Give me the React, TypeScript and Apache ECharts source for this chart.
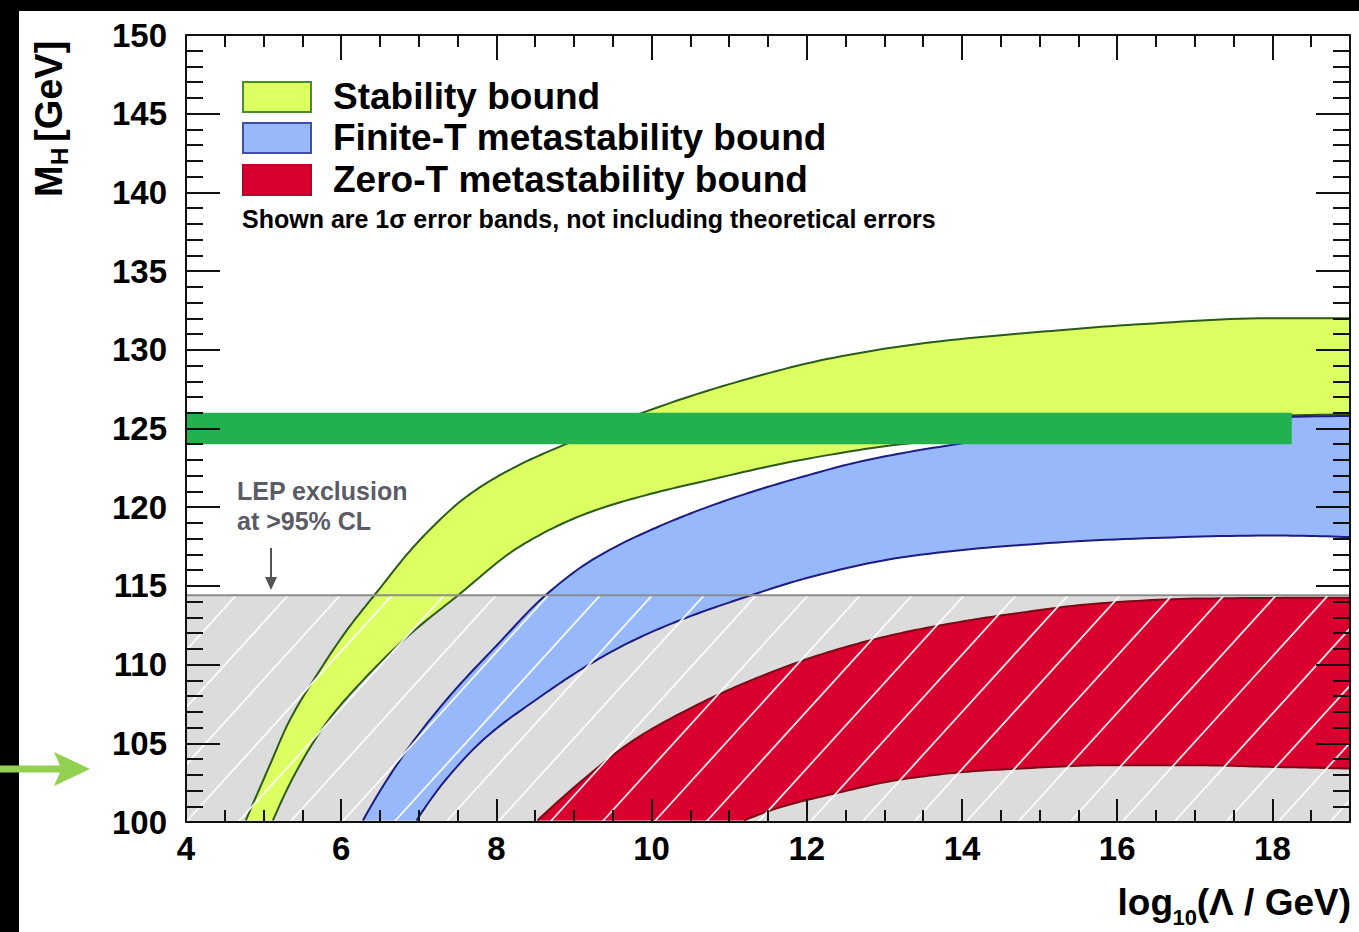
import React, { useEffect, useRef } from "react";
import * as echarts from "echarts";

// ---------- axis ranges ----------
const X_MIN = 4;
const X_MAX = 19;
const Y_MIN = 100;
const Y_MAX = 150;
const X_MAJOR = 2;
const X_MINOR = 0.5;
const Y_MAJOR = 5;

// ---------- Stability bound (yellow band) ----------
const stabilityUpperX = [4.77, 5.07, 5.33, 5.72, 6.06, 6.41, 7.01, 7.65, 8.3, 8.94, 9.94, 11.06, 12.35, 13.64, 15.15, 16.22, 17.95, 19];
const stabilityUpperY = [100.1, 103.5, 106.4, 109.6, 112.1, 114.3, 117.9, 120.8, 122.7, 124.1, 126.1, 127.9, 129.5, 130.5, 131.2, 131.6, 132.0, 132.0];
const stabilityLowerX = [5.12, 5.42, 5.81, 6.28, 6.88, 7.48, 8.3, 9.16, 10.03, 10.63, 11.92, 13.21, 14.5, 16.0, 18.0, 19];
const stabilityLowerY = [100.1, 103.2, 106.3, 109.0, 111.9, 114.3, 117.5, 119.6, 120.9, 121.6, 123.0, 124.0, 124.6, 125.3, 125.8, 125.9];

// ---------- Finite-T metastability bound (blue band) ----------
const finiteUpperX = [6.28, 6.58, 6.97, 7.45, 8.0, 8.62, 9.25, 10.2, 11.06, 11.92, 12.78, 13.86, 15.0, 17.0, 19];
const finiteUpperY = [100.1, 102.6, 105.4, 108.3, 111.2, 114.35, 116.7, 119.0, 120.6, 121.9, 123.0, 123.95, 124.7, 125.5, 125.8];
const finiteLowerX = [6.97, 7.35, 7.87, 8.52, 9.16, 9.75, 10.46, 11.28, 12.0, 13.21, 14.5, 16.22, 17.95, 19];
const finiteLowerY = [100.1, 102.7, 105.4, 107.8, 109.9, 111.5, 113.0, 114.4, 115.5, 116.8, 117.5, 118.0, 118.2, 118.1];

// ---------- Zero-T metastability bound (red band) ----------
const zeroUpperX = [8.53, 9.12, 9.77, 10.41, 11.28, 12.35, 13.21, 14.08, 14.76, 15.79, 17.08, 19];
const zeroUpperY = [100.1, 102.7, 105.2, 107.0, 109.0, 110.9, 112.0, 112.8, 113.3, 113.9, 114.2, 114.25];
const zeroLowerX = [11.19, 11.7, 12.35, 13.21, 14.08, 14.76, 15.79, 17.08, 18.0, 19];
const zeroLowerY = [100.1, 101.0, 101.8, 102.7, 103.2, 103.4, 103.6, 103.6, 103.5, 103.4];

// ---------- LEP exclusion and Higgs mass band ----------
const lepLimit = 114.4;
const higgsBandY = [124, 126];
const higgsBandX = [4, 18.25];

// ---------- texts ----------
const legendLabels = ["Stability bound", "Finite-T metastability bound", "Zero-T metastability bound"];
const noteText = "Shown are 1σ error bands, not including theoretical errors";
const lepText = ["LEP exclusion", "at >95% CL"];

const FONT = "'Liberation Sans', Arial, Helvetica, sans-serif";
const YELLOW = "#dcff62";
const YELLOW_EDGE = "#2c5a1c";
const BLUE = "#97b9fc";
const BLUE_EDGE = "#1c1c82";
const RED = "#d90030";
const RED_EDGE = "#7a0a14";
const GREEN = "#23b14d";

// shape-preserving cubic (PCHIP) through the read points, sampled for drawing
function pchip(xs: number[], ys: number[], perSeg = 14): number[][] {
  const n = xs.length;
  if (n < 3) return xs.map((x, i) => [x, ys[i]]);
  const h: number[] = [];
  const d: number[] = [];
  for (let i = 0; i < n - 1; i++) {
    h.push(xs[i + 1] - xs[i]);
    d.push((ys[i + 1] - ys[i]) / h[i]);
  }
  const m = new Array(n).fill(0);
  for (let i = 1; i < n - 1; i++) {
    if (d[i - 1] * d[i] <= 0) m[i] = 0;
    else {
      const w1 = 2 * h[i] + h[i - 1];
      const w2 = h[i] + 2 * h[i - 1];
      m[i] = (w1 + w2) / (w1 / d[i - 1] + w2 / d[i]);
    }
  }
  const endSlope = (h0: number, h1: number, d0: number, d1: number) => {
    let s = ((2 * h0 + h1) * d0 - h0 * d1) / (h0 + h1);
    if (Math.sign(s) !== Math.sign(d0)) s = 0;
    else if (Math.sign(d0) !== Math.sign(d1) && Math.abs(s) > Math.abs(3 * d0)) s = 3 * d0;
    return s;
  };
  m[0] = endSlope(h[0], h[1], d[0], d[1]);
  m[n - 1] = endSlope(h[n - 2], h[n - 3], d[n - 2], d[n - 3]);
  const out: number[][] = [];
  for (let i = 0; i < n - 1; i++) {
    for (let s = 0; s < perSeg; s++) {
      const t = s / perSeg;
      const t2 = t * t;
      const t3 = t2 * t;
      const h00 = 2 * t3 - 3 * t2 + 1;
      const h10 = t3 - 2 * t2 + t;
      const h01 = -2 * t3 + 3 * t2;
      const h11 = t3 - t2;
      out.push([xs[i] + t * h[i], h00 * ys[i] + h10 * h[i] * m[i] + h01 * ys[i + 1] + h11 * h[i] * m[i + 1]]);
    }
  }
  out.push([xs[n - 1], ys[n - 1]]);
  return out;
}

function bandSeries(name: string, ux: number[], uy: number[], lx: number[], ly: number[], fill: string, edge: string) {
  return {
    type: "custom",
    name,
    z: 3,
    clip: true,
    silent: true,
    data: [[ux[0], uy[0]]],
    renderItem: (_params: any, api: any) => {
      const up = pchip(ux, uy).map((p) => api.coord(p));
      const lo = pchip(lx, ly).map((p) => api.coord(p));
      const poly = up.concat(lo.slice().reverse());
      return {
        type: "group",
        children: [
          { type: "polygon", shape: { points: poly }, style: { fill, stroke: "none" } },
          { type: "polyline", shape: { points: up }, style: { fill: "none", stroke: edge, lineWidth: 2 } },
          { type: "polyline", shape: { points: lo }, style: { fill: "none", stroke: edge, lineWidth: 2 } },
        ],
      };
    },
  };
}

function xAxisDef(position: "top" | "bottom", step: number, len: number, labels: boolean, line: boolean) {
  return {
    type: "value",
    position,
    min: X_MIN,
    max: X_MAX,
    interval: step,
    z: 10,
    axisLine: { show: line, onZero: false, lineStyle: { color: "#111", width: 2 } },
    axisTick: { show: true, inside: true, length: len, lineStyle: { color: "#111", width: 2 } },
    splitLine: { show: false },
    axisLabel: {
      show: labels,
      showMaxLabel: false,
      margin: 10,
      color: "#000",
      fontSize: 33,
      fontWeight: "bold",
      fontFamily: FONT,
    },
  };
}

function yAxisDef(position: "left" | "right", labels: boolean) {
  return {
    type: "value",
    position,
    min: Y_MIN,
    max: Y_MAX,
    interval: Y_MAJOR,
    z: 10,
    axisLine: { show: true, onZero: false, lineStyle: { color: "#111", width: 2 } },
    axisTick: { show: true, inside: true, length: 34, lineStyle: { color: "#111", width: 2 } },
    minorTick: { show: true, splitNumber: 5, length: 17, lineStyle: { color: "#111", width: 2 } },
    splitLine: { show: false },
    minorSplitLine: { show: false },
    axisLabel: {
      show: labels,
      margin: 19,
      color: "#000",
      fontSize: 33,
      fontWeight: "bold",
      fontFamily: FONT,
      padding: [11, 0, 0, 0],
    },
  };
}

export default function App() {
  const ref = useRef<HTMLDivElement>(null);

  useEffect(() => {
    if (!ref.current) return;
    const chart = echarts.init(ref.current, undefined, { renderer: "svg" });

    const legendColors = [
      [YELLOW, "#4f8a2c"],
      [BLUE, "#3d4fa8"],
      [RED, "#b8002a"],
    ];
    const legendTop = [82, 123, 165];
    const txt = (text: string, font: string, fill: string, align: string) => ({
      text,
      font,
      fill,
      align,
      textAlign: align,
      verticalAlign: "middle",
      textVerticalAlign: "middle",
    });

    const graphics: any[] = [
      // black framing strips
      { type: "rect", shape: { x: 0, y: 0, width: 1359, height: 11 }, style: { fill: "#000" }, z: 100 },
      { type: "rect", shape: { x: 0, y: 0, width: 19, height: 932 }, style: { fill: "#000" }, z: 100 },
      // green pointer arrow
      {
        type: "polygon",
        z: 101,
        shape: { points: [[0, 765.5], [60, 765.5], [54, 752], [90, 769], [54, 786], [60, 772.5], [0, 772.5]] },
        style: { fill: "#92d050" },
      },
      // y-axis title
      {
        type: "group",
        x: 49,
        y: 197,
        rotation: Math.PI / 2,
        z: 100,
        children: [
          { type: "text", x: 0, y: 0, style: txt("M", `bold 38px ${FONT}`, "#000", "left") },
          { type: "text", x: 32, y: 10, style: txt("H", `bold 24px ${FONT}`, "#000", "left") },
          { type: "text", x: 55, y: 0, style: txt("[GeV]", `bold 38px ${FONT}`, "#000", "left") },
        ],
      },
      // x-axis title
      { type: "text", x: 1351, y: 902, z: 100, style: txt("(Λ / GeV)", `bold 37px ${FONT}`, "#000", "right") },
      { type: "text", x: 1197, y: 917, z: 100, style: txt("10", `bold 22px ${FONT}`, "#000", "right") },
      { type: "text", x: 1173, y: 902, z: 100, style: txt("log", `bold 37px ${FONT}`, "#000", "right") },
      // note
      { type: "text", x: 242, y: 219, z: 100, style: txt(noteText, `bold 25px ${FONT}`, "#000", "left") },
      // LEP annotation
      { type: "text", x: 237, y: 491, z: 100, style: txt(lepText[0], `bold 25px ${FONT}`, "#5b5b66", "left") },
      { type: "text", x: 237, y: 521, z: 100, style: txt(lepText[1], `bold 25px ${FONT}`, "#5b5b66", "left") },
      { type: "line", z: 100, shape: { x1: 271, y1: 548, x2: 271, y2: 580 }, style: { stroke: "#555", lineWidth: 2 } },
      { type: "polygon", z: 100, shape: { points: [[265, 577], [277, 577], [271, 590]] }, style: { fill: "#555" } },
    ];

    legendLabels.forEach((label, i) => {
      graphics.push({
        type: "rect",
        z: 100,
        shape: { x: 243, y: legendTop[i], width: 68, height: 30 },
        style: { fill: legendColors[i][0], stroke: legendColors[i][1], lineWidth: 2 },
      });
      graphics.push({
        type: "text",
        z: 100,
        x: 333,
        y: legendTop[i] + 14,
        style: txt(label, `bold 37px ${FONT}`, "#000", "left"),
      });
    });

    const option: any = {
      animation: false,
      backgroundColor: "#fff",
      grid: { left: 186, right: 9, top: 35, bottom: 110, containLabel: false },
      xAxis: [
        xAxisDef("bottom", X_MAJOR, 23, true, true),
        xAxisDef("bottom", X_MINOR, 12, false, false),
        xAxisDef("top", X_MAJOR, 25, false, true),
        xAxisDef("top", X_MINOR, 12, false, false),
      ],
      yAxis: [yAxisDef("left", true), yAxisDef("right", false)],
      series: [
        // LEP excluded region background
        {
          type: "custom",
          z: 1,
          clip: true,
          silent: true,
          data: [[X_MIN, lepLimit]],
          renderItem: (_p: any, api: any) => {
            const a = api.coord([X_MIN, lepLimit]);
            const b = api.coord([X_MAX, Y_MIN]);
            return { type: "rect", shape: { x: a[0], y: a[1], width: b[0] - a[0], height: b[1] - a[1] }, style: { fill: "#dcdcdc" } };
          },
        },
        bandSeries(legendLabels[0], stabilityUpperX, stabilityUpperY, stabilityLowerX, stabilityLowerY, YELLOW, YELLOW_EDGE),
        bandSeries(legendLabels[1], finiteUpperX, finiteUpperY, finiteLowerX, finiteLowerY, BLUE, BLUE_EDGE),
        bandSeries(legendLabels[2], zeroUpperX, zeroUpperY, zeroLowerX, zeroLowerY, RED, RED_EDGE),
        // hatch over LEP region + boundary line
        {
          type: "custom",
          z: 4,
          clip: true,
          silent: true,
          data: [[X_MIN, lepLimit]],
          renderItem: (_p: any, api: any) => {
            const a = api.coord([X_MIN, lepLimit]);
            const b = api.coord([X_MAX, Y_MIN]);
            const x0 = a[0], y0 = a[1], x1 = b[0], y1 = b[1];
            const k = 1.1;
            const sp = 52;
            const h = y1 - y0;
            const children: any[] = [];
            for (let c = x0 - Math.ceil(h / k / sp) * sp; c < x1; c += sp) {
              const s0 = Math.max(0, x0 - c);
              const s1 = Math.min(x1 - c, h / k);
              if (s1 > s0) {
                children.push({
                  type: "line",
                  shape: { x1: c + s0, y1: y1 - k * s0, x2: c + s1, y2: y1 - k * s1 },
                  style: { stroke: "rgba(255,255,255,0.9)", lineWidth: 1.8 },
                });
              }
            }
            children.push({ type: "line", shape: { x1: x0, y1: y0, x2: x1, y2: y0 }, style: { stroke: "#8c8c8c", lineWidth: 2 } });
            return { type: "group", children };
          },
        },
        // measured Higgs mass band
        {
          type: "custom",
          z: 5,
          clip: true,
          silent: true,
          data: [[higgsBandX[0], higgsBandY[1]]],
          renderItem: (_p: any, api: any) => {
            const a = api.coord([higgsBandX[0], higgsBandY[1]]);
            const b = api.coord([higgsBandX[1], higgsBandY[0]]);
            return { type: "rect", shape: { x: a[0], y: a[1], width: b[0] - a[0], height: b[1] - a[1] }, style: { fill: GREEN } };
          },
        },
      ],
      graphic: graphics,
    };

    chart.setOption(option);
    return () => chart.dispose();
  }, []);

  return (
    <div
      ref={ref}
      style={{ position: "fixed", left: 0, top: 0, width: 1359, height: 932, background: "#fff" }}
    />
  );
}
